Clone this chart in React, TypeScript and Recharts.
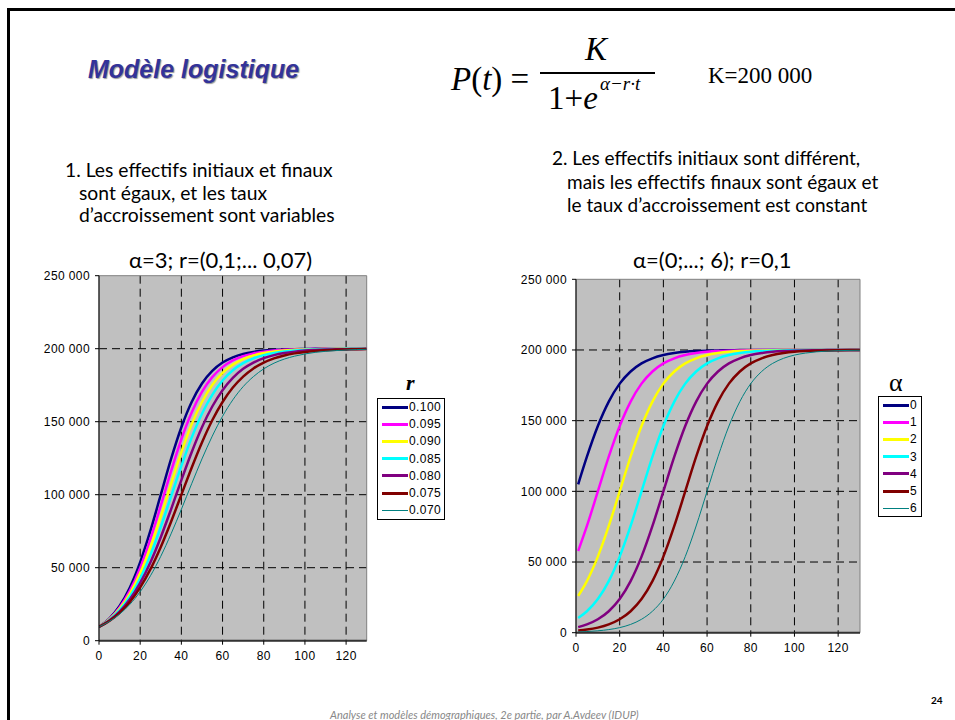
import React from 'react';
import { LineChart, Line, XAxis, YAxis, CartesianGrid, ReferenceArea } from 'recharts';

// time points
const tLeft = [0, 5, 10, 15, 20, 25, 30, 35, 40, 45, 50, 55, 60, 65, 70, 75, 80, 85, 90, 95, 100, 105, 110, 115, 120, 125, 130];
const tRight = [1, 5, 10, 15, 20, 25, 30, 35, 40, 45, 50, 55, 60, 65, 70, 75, 80, 85, 90, 95, 100, 105, 110, 115, 120, 125, 130];

// left panel: alpha = 3, r varies
const r100 = [9490, 15200, 23800, 36500, 53800, 75500, 100000, 124500, 146200, 163500, 176200, 184800, 190500, 194100, 196400, 197800, 198700, 199200, 199500, 199700, 199800, 199900, 200000, 200000, 200000, 200000, 200000];
const r095 = [9490, 14800, 22800, 34300, 49900, 69700, 92500, 116100, 138000, 156300, 170400, 180500, 187400, 192000, 194900, 196800, 198000, 198800, 199200, 199500, 199700, 199800, 199900, 200000, 200000, 200000, 200000];
const r090 = [9490, 14500, 21800, 32200, 46300, 64200, 85100, 107500, 129100, 148200, 163500, 175100, 183400, 189100, 192900, 195400, 197000, 198100, 198800, 199200, 199500, 199700, 199800, 199900, 199900, 200000, 200000];
const r085 = [9490, 14200, 20900, 30300, 42800, 58800, 77900, 98800, 119700, 139100, 155500, 168400, 178200, 185200, 190100, 193400, 195600, 197100, 198100, 198800, 199200, 199500, 199700, 199800, 199900, 199900, 199900];
const r080 = [9490, 13800, 19950, 28400, 39600, 53800, 70900, 90000, 110000, 129100, 146200, 160400, 171600, 180000, 186200, 190500, 193500, 195600, 197000, 198000, 198700, 199100, 199400, 199600, 199700, 199800, 199900];
const r075 = [9490, 13500, 19100, 26600, 36500, 49000, 64200, 81500, 100000, 118500, 135800, 151000, 163500, 173400, 180900, 186500, 190500, 193400, 195400, 196800, 197800, 198500, 199000, 199300, 199500, 199700, 199800];
const r070 = [9490, 13200, 18200, 24900, 33600, 44500, 57800, 73200, 90000, 107500, 124500, 140100, 153700, 165000, 174000, 180900, 186200, 190100, 192900, 194900, 196400, 197500, 198200, 198700, 199100, 199400, 199600];

// right panel: r = 0.1, alpha varies
const a0 = [105000, 124500, 146200, 163500, 176200, 184800, 190500, 194100, 196400, 197800, 198700, 199200, 199500, 199700, 199800, 199900, 200000, 200000, 200000, 200000, 200000, 200000, 200000, 200000, 200000, 200000, 200000];
const a1 = [57800, 75500, 100000, 124500, 146200, 163500, 176200, 184800, 190500, 194100, 196400, 197800, 198700, 199200, 199500, 199700, 199800, 199900, 200000, 200000, 200000, 200000, 200000, 200000, 200000, 200000, 200000];
const a2 = [26000, 36500, 53800, 75500, 100000, 124500, 146200, 163500, 176200, 184800, 190500, 194100, 196400, 197800, 198700, 199200, 199500, 199700, 199800, 199900, 200000, 200000, 200000, 200000, 200000, 200000, 200000];
const a3 = [10400, 15200, 23800, 36500, 53800, 75500, 100000, 124500, 146200, 163500, 176200, 184800, 190500, 194100, 196400, 197800, 198700, 199200, 199500, 199700, 199800, 199900, 200000, 200000, 200000, 200000, 200000];
const a4 = [3970, 5860, 9490, 15200, 23800, 36500, 53800, 75500, 100000, 124500, 146200, 163500, 176200, 184800, 190500, 194100, 196400, 197800, 198700, 199200, 199500, 199700, 199800, 199900, 200000, 200000, 200000];
const a5 = [1480, 2200, 3600, 5860, 9490, 15200, 23800, 36500, 53800, 75500, 100000, 124500, 146200, 163500, 176200, 184800, 190500, 194100, 196400, 197800, 198700, 199200, 199500, 199700, 199800, 199900, 200000];
const a6 = [550, 810, 1340, 2200, 3600, 5860, 9490, 15200, 23800, 36500, 53800, 75500, 100000, 124500, 146200, 163500, 176200, 184800, 190500, 194100, 196400, 197800, 198700, 199200, 199500, 199700, 199800];

const leftLabels = ['0.100', '0.095', '0.090', '0.085', '0.080', '0.075', '0.070'];
const rightLabels = ['0', '1', '2', '3', '4', '5', '6'];
const colors = ['#000080', '#FF00FF', '#FFFF00', '#00FFFF', '#800080', '#800000', '#008080'];

const xTicks = [0, 20, 40, 60, 80, 100, 120];
const yTicks = [0, 50000, 100000, 150000, 200000, 250000];

const buildRows = (ts: number[], series: number[][]) =>
  ts.map((t, i) => {
    const row: Record<string, number> = { t };
    series.forEach((s, k) => { row['s' + k] = s[i]; });
    return row;
  });

const fmt = (v: number) => String(v).replace(/\B(?=(\d{3})+(?!\d))/g, ' ');

const SANS = '"Liberation Sans", Arial, sans-serif';
const SERIF = '"Liberation Serif", "Times New Roman", serif';
const BODY = 'Lato, "Open Sans", sans-serif';

interface PanelProps {
  ts: number[];
  series: number[][];
  left: number; top: number; width: number; height: number;
  yWidth: number;
  margin: { top: number; right: number; bottom: number; left: number };
}

function Panel({ ts, series, left, top, width, height, yWidth, margin }: PanelProps) {
  const data = buildRows(ts, series);
  const tickStyle = { fill: '#000', fontSize: 12, fontFamily: SANS, letterSpacing: 0.4 };
  return (
    <div style={{ position: 'absolute', left, top }}>
      <LineChart width={width} height={height} data={data} margin={margin}>
        <CartesianGrid
          fill="#C0C0C0"
          stroke="#000"
          strokeDasharray="8 5"
          horizontalValues={[50000, 100000, 150000, 200000]}
          verticalValues={[20, 40, 60, 80, 100, 120]}
        />
        <ReferenceArea x1={0} x2={130} y1={0} y2={250000} fill="none" stroke="#808080" strokeWidth={1} />
        <XAxis
          type="number"
          dataKey="t"
          domain={[0, 130]}
          ticks={xTicks}
          allowDataOverflow
          height={25}
          tick={tickStyle}
          tickSize={4}
          tickMargin={7}
          tickLine={{ stroke: '#000' }}
          axisLine={{ stroke: '#333', strokeWidth: 2 }}
        />
        <YAxis
          type="number"
          domain={[0, 250000]}
          ticks={yTicks}
          width={yWidth}
          tick={tickStyle}
          tickSize={4}
          tickMargin={5}
          tickFormatter={fmt}
          tickLine={{ stroke: '#000' }}
          axisLine={{ stroke: '#000' }}
        />
        {series.map((_, k) => (
          <Line
            key={k}
            type="monotone"
            dataKey={'s' + k}
            stroke={colors[k]}
            strokeWidth={k === 6 ? 1 : 2.5}
            dot={false}
            isAnimationActive={false}
          />
        ))}
      </LineChart>
    </div>
  );
}

function LegendBox({ labels, left, top, width, height }: { labels: string[]; left: number; top: number; width: number; height: number }) {
  return (
    <div style={{ position: 'absolute', left, top, width, height, border: '1px solid #000', boxSizing: 'border-box', background: '#fff' }}>
      {labels.map((lab, k) => (
        <div key={lab} style={{ position: 'absolute', left: 4, top: 1 + k * 17.2, height: 14, display: 'flex', alignItems: 'center' }}>
          <div style={{ width: 26, height: k === 6 ? 1 : 3, background: colors[k] }} />
          <span style={{ fontFamily: SANS, fontSize: 12, marginLeft: 1, color: '#000', letterSpacing: 0.4 }}>{lab}</span>
        </div>
      ))}
    </div>
  );
}

const abs = (left: number, top: number, extra: React.CSSProperties = {}): React.CSSProperties => ({
  position: 'absolute', left, top, whiteSpace: 'nowrap', lineHeight: 1, ...extra,
});

export default function App() {
  const leftSeries = [r100, r095, r090, r085, r080, r075, r070];
  const rightSeries = [a0, a1, a2, a3, a4, a5, a6];
  return (
    <div style={{ position: 'absolute', left: 0, top: 0, width: 955, height: 720, background: '#fff', overflow: 'hidden' }}>
      {/* slide frame */}
      <div style={{ position: 'absolute', left: 7, top: 8, width: 1000, height: 800, border: '3px solid #000' }} />

      {/* header */}
      <div style={abs(88, 57, { fontFamily: SANS, fontSize: 25, fontWeight: 'bold', fontStyle: 'italic', color: '#333399', textShadow: '1px 1px 1px #999' })}>
        Modèle logistique
      </div>
      <div style={abs(451, 63, { fontFamily: SERIF, fontSize: 33 })}>
        <i>P</i>(<i>t</i>) =
      </div>
      <div style={abs(585, 33, { fontFamily: SERIF, fontSize: 33, fontStyle: 'italic' })}>K</div>
      <div style={{ position: 'absolute', left: 540, top: 72, width: 115, height: 1.5, background: '#000' }} />
      <div style={abs(548, 82, { fontFamily: SERIF, fontSize: 33 })}>
        1+<i>e</i>
      </div>
      <div style={abs(600, 74, { fontFamily: SERIF, fontSize: 19, fontStyle: 'italic' })}>α−r·t</div>
      <div style={abs(708, 64, { fontFamily: SERIF, fontSize: 23 })}>K=200 000</div>

      {/* descriptions */}
      <div style={{ position: 'absolute', left: 65, top: 159, fontFamily: BODY, fontSize: 19.3, lineHeight: '22.5px', color: '#000' }}>
        <div>1. Les effectifs initiaux et finaux</div>
        <div style={{ paddingLeft: 14 }}>sont égaux, et les taux</div>
        <div style={{ paddingLeft: 14 }}>d’accroissement sont variables</div>
      </div>
      <div style={{ position: 'absolute', left: 552, top: 146, fontFamily: BODY, fontSize: 19, lineHeight: '23.5px', color: '#000' }}>
        <div>2. Les effectifs initiaux sont différent,</div>
        <div style={{ paddingLeft: 15 }}>mais les effectifs finaux sont égaux et</div>
        <div style={{ paddingLeft: 15 }}>le taux d’accroissement est constant</div>
      </div>

      {/* panel titles */}
      <div style={abs(129, 249, { fontFamily: BODY, fontSize: 22 })}>α=3; r=(0,1;... 0,07)</div>
      <div style={abs(633, 249, { fontFamily: BODY, fontSize: 22 })}>α=(0;...; 6); r=0,1</div>

      <Panel
        ts={tLeft}
        series={leftSeries}
        left={30} top={260} width={350} height={410}
        yWidth={69}
        margin={{ top: 15.7, right: 13.3, bottom: 4.3, left: 0 }}
      />
      <Panel
        ts={tRight}
        series={rightSeries}
        left={500} top={260} width={370} height={400}
        yWidth={76}
        margin={{ top: 19.3, right: 10, bottom: 2.3, left: 0 }}
      />

      {/* legends */}
      <div style={abs(406, 372, { fontFamily: SERIF, fontSize: 22, fontWeight: 'bold', fontStyle: 'italic' })}>r</div>
      <LegendBox labels={leftLabels} left={377} top={398} width={68} height={122} />
      <div style={abs(889, 370, { fontFamily: SERIF, fontSize: 26 })}>α</div>
      <LegendBox labels={rightLabels} left={878} top={396} width={44} height={121} />

      {/* footer */}
      <div style={abs(330, 709, { fontFamily: BODY, fontSize: 11, fontStyle: 'italic', color: '#888' })}>
        Analyse et modèles démographiques, 2e partie, par A.Avdeev (IDUP)
      </div>
      <div style={abs(931, 695, { fontFamily: BODY, fontSize: 10, fontWeight: 'bold' })}>24</div>
    </div>
  );
}
